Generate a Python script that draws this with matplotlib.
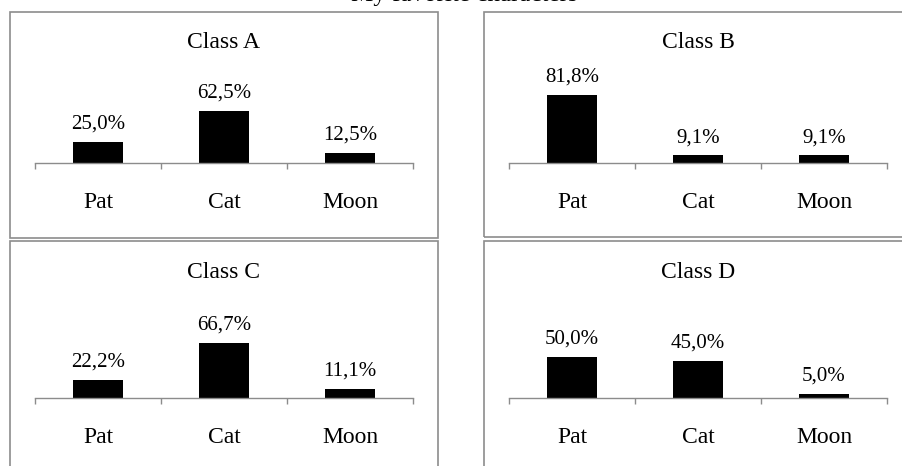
import matplotlib.pyplot as plt
from matplotlib.patches import Rectangle

plt.rcParams['font.family'] = ['Liberation Serif', 'DejaVu Serif']

categories = ["Pat", "Cat", "Moon"]
class_names = ["Class A", "Class B", "Class C", "Class D"]
class_a = [25.0, 62.5, 12.5]
class_b = [81.8, 9.1, 9.1]
class_c = [22.2, 66.7, 11.1]
class_d = [50.0, 45.0, 5.0]
suptitle = "My favorite characters"

W, H = 903, 466
fig = plt.figure(figsize=(W / 100, H / 100), dpi=100)

grey = "#8c8c8c"

# panel layout in pixels: frame left, frame top, frame bottom, axis left, axis y
panels = [
    (class_names[0], class_a, 10, 12, 238, 35, 163),
    (class_names[1], class_b, 484, 12, 237, 509, 163),
    (class_names[2], class_c, 10, 241, 470, 35, 398),
    (class_names[3], class_d, 484, 241, 470, 509, 398),
]

for name, vals, fx, ftop, fbot, ax_left, ax_y in panels:
    fright = 438 if fx < 100 else 910
    fig.patches.append(Rectangle((fx / W, 1 - fbot / H), (fright - fx) / W, (fbot - ftop) / H,
                                 transform=fig.transFigure, fill=False, edgecolor=grey, lw=1.2))
    ax = fig.add_axes([ax_left / W, 1 - ax_y / H, 378 / W, 83 / H])
    ax.patch.set_alpha(0)
    x = range(len(categories))
    ax.bar(x, [v / 100 for v in vals], width=0.4, color="black")
    ax.set_xlim(-0.5, 2.5)
    ax.set_ylim(0, 1)
    for s in ["top", "left", "right"]:
        ax.spines[s].set_visible(False)
    ax.spines["bottom"].set_color(grey)
    ax.spines["bottom"].set_linewidth(1.0)
    ax.set_yticks([])
    ax.set_xticks([-0.5, 0.5, 1.5, 2.5])
    ax.set_xticklabels([])
    ax.tick_params(axis="x", direction="out", length=4, color=grey, width=1.0)
    for i, v in enumerate(vals):
        ax.annotate(f"{v:.1f}".replace(".", ",") + "%", xy=(i, v / 100), xytext=(0, 6),
                    textcoords="offset points", ha="center", va="bottom", fontsize=15)
        ax.annotate(categories[i], xy=(i, 0), xytext=(0, -45 * 0.72),
                    textcoords="offset points", ha="center", va="baseline", fontsize=17)
    fig.text((ax_left + 189) / W, 1 - (ftop + 31) / H, name, ha="center", va="center", fontsize=17)

fig.text(464 / W, 1 - 1 / H, suptitle, ha="center", va="baseline", fontsize=18)

fig.savefig("out.png", dpi=100)
